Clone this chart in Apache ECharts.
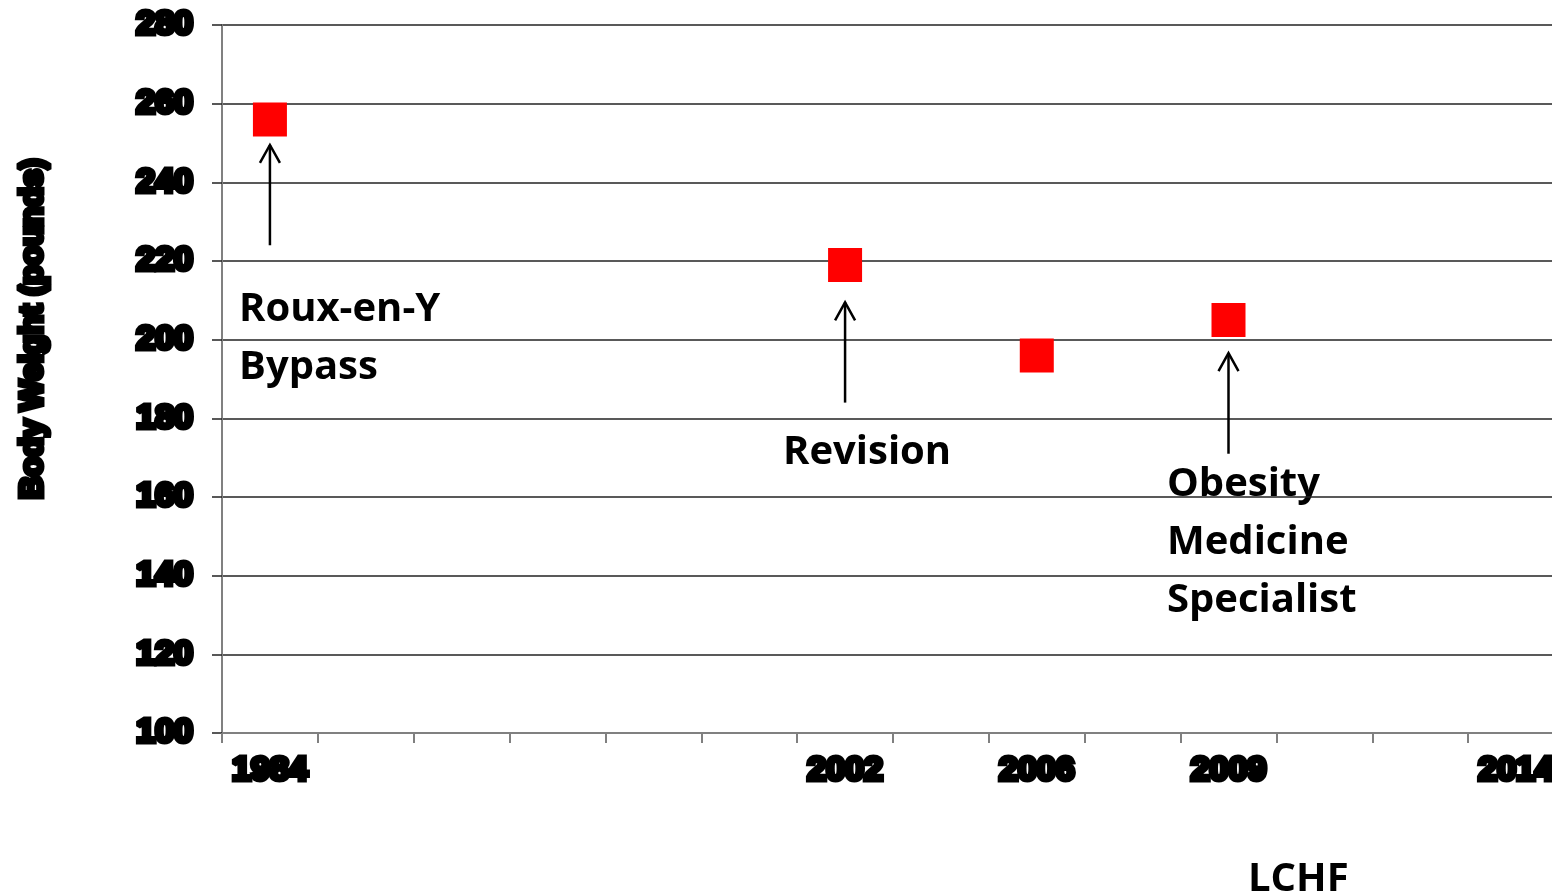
<!DOCTYPE html>
<html>
<head>
<meta charset="utf-8">
<script src="https://cdn.jsdelivr.net/npm/echarts@6/dist/echarts.min.js"></script>
<style>
  html, body { margin: 0; padding: 0; background: #fff; }
  #chart { width: 1552px; height: 896px; }
</style>
</head>
<body>
<div id="chart"></div>
<script>
// Year slots along the timeline (one category per slot, unlabeled slots blank)
const years = ['1984', '', '', '', '', '', '2002', '', '2006', '', '2009', '', '', '2014'];

// Body weight readings: [slot index, pounds]
const weightSlots = [0, 6, 8, 10];
const weights = [256, 219, 196, 205];

// Event arrows: [slot index, tail value, head value]
const arrowSlots = [0, 6, 10];
const arrowTails = [224, 184, 171];
const arrowHeads = [249.5, 209.5, 196.6];

// Y axis range
const yMin = 100, yMax = 280, yStep = 20;

const heavyLabel = {
  fontFamily: 'Liberation Sans, Arial, sans-serif',
  fontWeight: 'bold',
  fontSize: 34,
  color: '#000',
  textBorderColor: '#000',
  textBorderWidth: 5
};

const noteFont = {
  fontFamily: '"Open Sans", sans-serif',
  fontWeight: 'bold',
  fontSize: 40,
  fill: '#000'
};

function note(text, x, y) {
  return {
    type: 'text', x: x, y: y,
    style: Object.assign({ text: text, textAlign: 'left', textVerticalAlign: 'middle' }, noteFont),
    silent: true
  };
}

const chart = echarts.init(document.getElementById('chart'), null, { renderer: 'canvas' });

chart.setOption({
  animation: false,
  backgroundColor: '#fff',
  grid: { left: 222, right: -12, top: 25, bottom: 163, containLabel: false, outerBoundsMode: 'none' },
  xAxis: {
    type: 'category',
    data: years,
    boundaryGap: true,
    axisLine: { lineStyle: { color: '#808080', width: 2 } },
    axisTick: { show: true, length: 10, interval: 0, lineStyle: { color: '#808080', width: 2 } },
    axisLabel: Object.assign({ interval: 0, margin: 21 }, heavyLabel),
    splitLine: { show: false }
  },
  yAxis: {
    type: 'value',
    min: yMin, max: yMax, interval: yStep,
    axisLine: { show: true, lineStyle: { color: '#808080', width: 2 } },
    axisTick: { show: true, length: 10, lineStyle: { color: '#222', width: 1.5 } },
    axisLabel: Object.assign({ margin: 29 }, heavyLabel),
    splitLine: { show: true, lineStyle: { color: '#222', width: 1.5 } }
  },
  graphic: [
    {
      type: 'text', x: 33, y: 329, rotation: Math.PI / 2,
      style: {
        text: 'Body Weight (pounds)',
        textAlign: 'center', textVerticalAlign: 'middle',
        fontFamily: 'Liberation Sans, Arial, sans-serif',
        fontWeight: 'bold', fontSize: 32,
        fill: '#000', stroke: '#000', lineWidth: 5
      },
      silent: true
    },
    note('Roux-en-Y', 239, 310),
    note('Bypass', 239, 368),
    note('Revision', 783, 453),
    note('Obesity', 1167, 485),
    note('Medicine', 1167, 543),
    note('Specialist', 1167, 601),
    note('LCHF', 1248, 880)
  ],
  series: [
    {
      type: 'custom',
      data: arrowSlots.map((s, i) => [s, arrowTails[i], arrowHeads[i]]),
      renderItem: function (params, api) {
        const tail = api.coord([api.value(0), api.value(1)]);
        const head = api.coord([api.value(0), api.value(2)]);
        const style = { stroke: '#000', lineWidth: 2.5, fill: null };
        return {
          type: 'group',
          children: [
            { type: 'line', shape: { x1: tail[0], y1: tail[1], x2: head[0], y2: head[1] }, style: style },
            { type: 'polyline', shape: { points: [[head[0] - 10, head[1] + 18], [head[0], head[1]], [head[0] + 10, head[1] + 18]] }, style: style }
          ]
        };
      },
      silent: true,
      z: 3
    },
    {
      type: 'scatter',
      data: weightSlots.map((s, i) => [s, weights[i]]),
      symbol: 'rect',
      symbolSize: 34,
      itemStyle: { color: '#ff0000', opacity: 1 },
      z: 4
    }
  ]
});
</script>
</body>
</html>
